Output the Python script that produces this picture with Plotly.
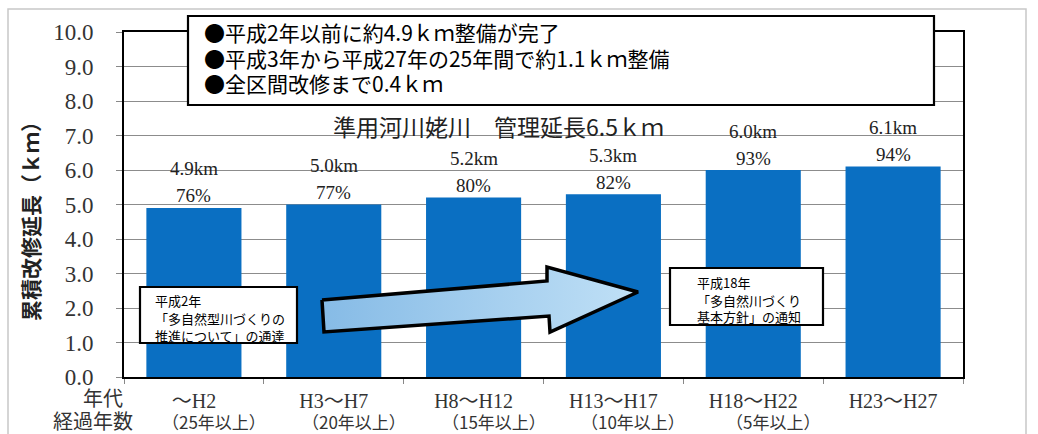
import plotly.graph_objects as go

# ---- data -------------------------------------------------------------
periods = ["〜H2", "H3〜H7", "H8〜H12", "H13〜H17", "H18〜H22", "H23〜H27"]
elapsed = ["（25年以上）", "（20年以上）", "（15年以上）", "（10年以上）", "（5年以上）", ""]
length_km = [4.9, 5.0, 5.2, 5.3, 6.0, 6.1]
ratio_pct = [76, 77, 80, 82, 93, 94]
y_ticks = [0, 1, 2, 3, 4, 5, 6, 7, 8, 9, 10]

summary_lines = [
    "●平成2年以前に約4.9ｋｍ整備が完了",
    "●平成3年から平成27年の25年間で約1.1ｋｍ整備",
    "●全区間改修まで0.4ｋｍ",
]
subtitle = "準用河川姥川　管理延長6.5ｋｍ"
note_left = ["平成2年", "「多自然型川づくりの", "推進について」の通達"]
note_right = ["平成18年", "「多自然川づくり", "基本方針」の通知"]

# ---- page geometry (pixels) ---------------------------------------------
W, H = 1038, 434
PL, PR, PT, PB = 124, 963, 32, 377

SERIF = "Liberation Serif, Noto Sans CJK JP, serif"
GOTHIC = "Noto Sans CJK JP, sans-serif"
BAR_BLUE = "#0a6fc2"


def px(x):
    return (x - PL) / (PR - PL)


def py(y):
    return (PB - y) / (PB - PT)


fig = go.Figure()
fig.add_trace(go.Bar(
    x=periods, y=length_km, marker=dict(color=BAR_BLUE, line=dict(width=0)),
    hoverinfo="skip", showlegend=False,
))

# block arrow drawn in a pixel-space overlay
arrow_x = [322, 547, 547, 638, 550, 549, 324, 322]
arrow_y = [300, 281, 267, 292, 332, 316, 332, 300]
fig.add_trace(go.Scatter(
    x=arrow_x, y=arrow_y, xaxis="x2", yaxis="y2", mode="lines",
    fill="toself",
    fillgradient=dict(type="horizontal", start=322, stop=638,
                      colorscale=[[0, "#86bbe6"], [1, "#c0e0f6"]]),
    line=dict(color="black", width=3.5),
    hoverinfo="skip", showlegend=False,
))

shapes = [
    # outer frame
    dict(type="rect", xref="paper", yref="paper", layer="below",
         x0=px(8), x1=px(1026), y0=py(445), y1=py(9),
         line=dict(color="#c8c8c8", width=1.5), fillcolor="rgba(0,0,0,0)"),
]
for (x0, y0, x1, y1) in [(188, 16, 934, 105), (140, 287, 297, 343), (670, 268, 823, 325)]:
    shapes.append(dict(type="rect", xref="paper", yref="paper", layer="above",
                       x0=px(x0), x1=px(x1), y0=py(y1), y1=py(y0),
                       line=dict(color="black", width=2.2), fillcolor="white"))

annotations = []
# value labels above bars
for cat, v, p in zip(periods, length_km, ratio_pct):
    annotations.append(dict(x=cat, y=v, xref="x", yref="y", text=f"{v:.1f}km",
                            showarrow=False, xanchor="center", yanchor="middle", yshift=39,
                            font=dict(family=SERIF, size=19, color="#222")))
    annotations.append(dict(x=cat, y=v, xref="x", yref="y", text=f"{p}%",
                            showarrow=False, xanchor="center", yanchor="middle", yshift=12,
                            font=dict(family=SERIF, size=19, color="#222")))

# second row of category labels (elapsed years)
for cat, e in zip(periods, elapsed):
    if e:
        annotations.append(dict(x=cat, y=py(421), xref="x", yref="paper", text=e,
                                showarrow=False, xanchor="center", yanchor="middle",
                                xshift=20, borderpad=0,
                                font=dict(family=GOTHIC, size=17, color="#333")))

# summary box text
for line, yc in zip(summary_lines, [32, 58, 83]):
    annotations.append(dict(x=px(202), y=py(yc), xref="paper", yref="paper",
                            text=line, showarrow=False, xanchor="left", yanchor="middle",
                            font=dict(family=GOTHIC, size=21, color="black")))

annotations.append(dict(x=px(498), y=py(126), xref="paper", yref="paper",
                        text=subtitle, showarrow=False, xanchor="center", yanchor="middle",
                        font=dict(family=GOTHIC, size=23, color="#222")))

for lines, x0, ys in [(note_left, 153, [300, 318, 335]), (note_right, 695, [282, 300, 316])]:
    for line, yc in zip(lines, ys):
        annotations.append(dict(x=px(x0), y=py(yc), xref="paper", yref="paper",
                                text=line, showarrow=False, xanchor="left", yanchor="middle",
                                font=dict(family=GOTHIC, size=13, color="black")))

# axis captions
annotations.append(dict(x=px(30), y=py(216), xref="paper", yref="paper",
                        text="<b>累積改修延長（ｋｍ）</b>", textangle=-90, showarrow=False,
                        xanchor="center", yanchor="middle",
                        font=dict(family=GOTHIC, size=21, color="#222")))
annotations.append(dict(x=px(103), y=py(397), xref="paper", yref="paper",
                        text="年代", showarrow=False, xanchor="center", yanchor="middle",
                        borderpad=0,
                        font=dict(family=GOTHIC, size=20, color="#333")))
annotations.append(dict(x=px(93), y=py(420), xref="paper", yref="paper",
                        text="経過年数", showarrow=False, xanchor="center", yanchor="middle",
                        borderpad=0,
                        font=dict(family=GOTHIC, size=20, color="#333")))

fig.update_layout(
    width=W, height=H,
    margin=dict(l=PL, r=W - PR, t=PT, b=H - PB, pad=0),
    paper_bgcolor="white", plot_bgcolor="white",
    bargap=0.32,
    xaxis=dict(
        type="category", tickvals=periods, ticktext=periods,
        tickson="boundaries", ticks="outside", ticklen=5, tickcolor="#888",
        ticklabelstandoff=5,
        showline=True, mirror=True, linecolor="black", linewidth=2,
        showgrid=False, automargin=False,
        tickfont=dict(family=SERIF, size=20, color="#333"),
    ),
    yaxis=dict(
        range=[0, 10], tickvals=y_ticks, tickformat=".1f",
        ticks="outside", ticklen=6, tickcolor="#888", ticklabelstandoff=18,
        showline=True, mirror=True, linecolor="black", linewidth=2,
        showgrid=True, gridcolor="#8c8c8c", gridwidth=1, zeroline=False,
        automargin=False,
        tickfont=dict(family=SERIF, size=23, color="#333"),
    ),
    xaxis2=dict(overlaying="x", range=[PL, PR], visible=False, anchor="y2",
                fixedrange=True),
    yaxis2=dict(overlaying="y", range=[PB, PT], visible=False, anchor="x2",
                fixedrange=True),
    shapes=shapes,
    annotations=annotations,
)

fig.write_html("out.html")
